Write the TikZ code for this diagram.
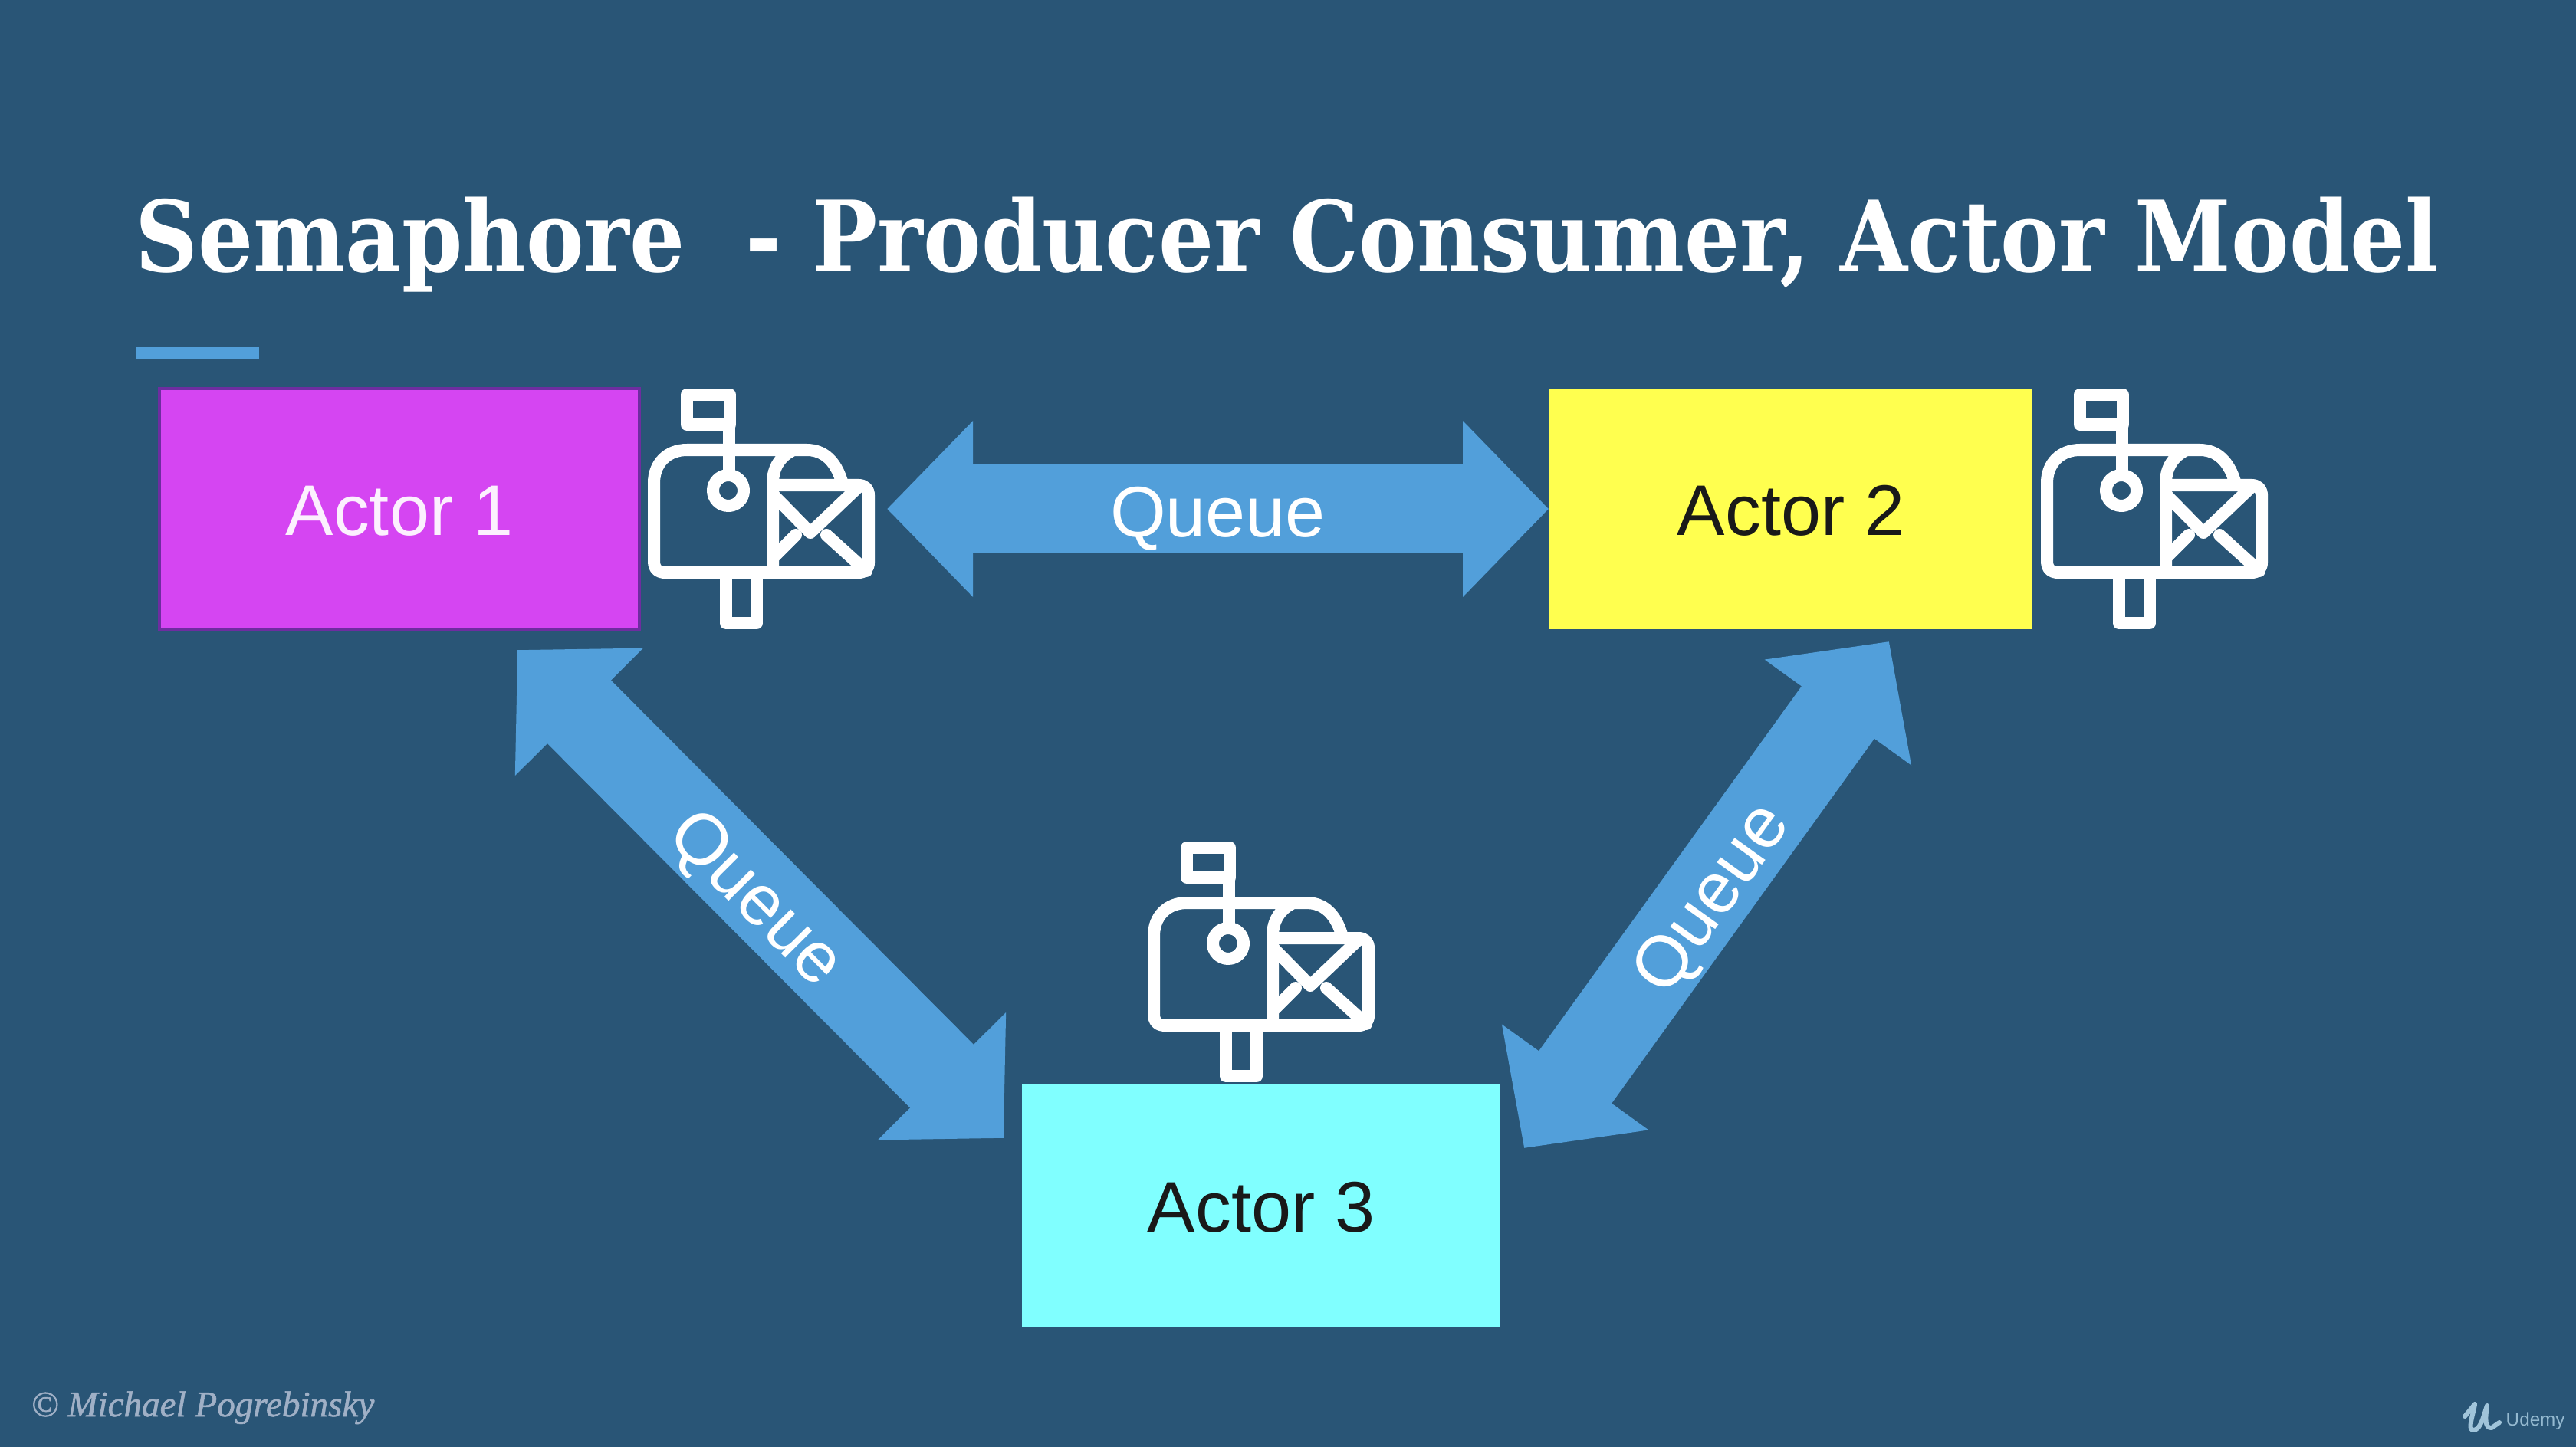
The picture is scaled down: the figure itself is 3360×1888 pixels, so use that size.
\documentclass[tikz,border=0pt]{standalone}
\usepackage{fontspec}
\usetikzlibrary{arrows.meta}
\setmainfont{Liberation Sans}
\newfontfamily\titlefont{DejaVu Serif}[FakeStretch=0.884]
\newfontfamily\footfont{Liberation Serif}[FakeBold=1.2]
\definecolor{slidebg}{RGB}{41, 85, 118}
\definecolor{queueblue}{RGB}{82, 159, 218}
\definecolor{actormag}{RGB}{213, 69, 242}
\definecolor{actormagdark}{RGB}{110, 45, 160}
\definecolor{actoryel}{RGB}{255, 255, 79}
\definecolor{actorcyan}{RGB}{128, 255, 255}
\definecolor{footgray}{RGB}{160, 176, 198}
\definecolor{logoblue}{RGB}{160, 196, 218}
\tikzset{
    actorbox/.style={rectangle, inner sep=0pt, minimum width=6.26cm, minimum height=3.13cm, text height=19.6pt, text depth=0pt, font=\fontsize{26.6}{30}\selectfont},
    queuearrow/.style={line width=1.17cm, draw=queueblue, {Triangle[length=1.14cm, width=2.29cm]}-{Triangle[length=1.14cm, width=2.29cm]}},
    flatarrow/.style={line width=1.16cm, draw=queueblue, {Triangle[length=1.12cm, width=2.23cm]}-{Triangle[length=1.12cm, width=2.23cm]}},
    queuelabel/.style={text=white, inner sep=0pt, text height=21.5pt, text depth=1pt, font=\fontsize{26.6}{30}\selectfont},
    boxline/.style={draw=white, line width=0.16cm, line join=round, line cap=round},
    mailbox/.pic={
        % flag and pole
        \draw[boxline] (96,45) rectangle (152,84);
        \draw[boxline] (151,84) -- (151,150);
        \draw[boxline] (150,170) circle[radius=20];
        % body, open end and envelope
        \draw[boxline] (298,158) .. controls (290,132) and (275,117) .. (252,117) -- (96,117)
            .. controls (70,117) and (53,135) .. (53,160) -- (53,262)
            .. controls (53,272) and (58,277) .. (68,277) -- (320,277)
            .. controls (328,277) and (333,272) .. (333,264) -- (333,176)
            .. controls (333,168) and (328,163) .. (320,163) -- (208,163);
        \draw[boxline] (208,277) -- (208,160) .. controls (208,140) and (218,125) .. (235,117);
        \draw[boxline] (208,175) -- (257,225) -- (320,165);
        \draw[boxline] (208,258) -- (238,228);
        \draw[boxline] (278,228) -- (330,275);
        % post
        \draw[boxline] (147,277) -- (147,343) -- (187,343) -- (187,277);
    }
}

\begin{document}
\begin{tikzpicture}[x=0.01cm, y=-0.01cm]
    \fill[slidebg] (0,0) rectangle (3360,1888);

    \node[anchor=base west, inner sep=0pt, text=white, font=\titlefont\bfseries\fontsize{36.5}{40}\selectfont] (title) at (176,354) {Semaphore\ \ - Producer Consumer, Actor Model};
    \node[fill=queueblue, inner sep=0pt, minimum width=1.59cm, minimum height=0.16cm] (titlerule) at (258,461) {};

    \node[actorbox, fill=actormag, draw=actormagdark, line width=0.04cm, text=white!92!actormag] (actor1) at (521,664) {Actor 1};
    \node[actorbox, fill=actoryel, minimum width=6.3cm, text=black!90] (actor2) at (2336,664) {Actor 2};
    \node[actorbox, fill=actorcyan, minimum width=6.24cm, minimum height=3.17cm, text=black!90] (actor3) at (1645,1573) {Actor 3};

    \foreach \bx/\by in {800/470, 2617/470, 1452/1061}
        \pic at (\bx,\by) {mailbox};

    \coordinate (q12a) at (1157,664);
    \coordinate (q13a) at (675,848);
    \coordinate (q13b) at (1309,1485);
    \coordinate (q23a) at (2464,837);
    \coordinate (q23b) at (1988,1498);

    \draw[flatarrow] (q12a) -- node[queuelabel] (queue12) {Queue} (actor2.west);
    \draw[queuearrow] (q13a) -- node[queuelabel, sloped] (queue13) {Queue} (q13b);
    \draw[queuearrow] (q23b) -- node[queuelabel, sloped] (queue23) {Queue} (q23a);

    \node[anchor=base west, inner sep=0pt, text=footgray, font=\footfont\itshape\fontsize{13.4}{15}\selectfont] (credit) at (40,1848) {© Michael Pogrebinsky};

    % logo in the corner
    \draw[logoblue, line width=0.06cm, line cap=round, line join=round] (3215,1848) -- (3228,1832) .. controls (3226,1845) and (3218,1866) .. (3226,1866)
        .. controls (3236,1866) and (3240,1845) .. (3244,1834) .. controls (3242,1848) and (3240,1864) .. (3250,1863) -- (3260,1856);
    \node[anchor=base west, inner sep=0pt, text=logoblue!90!slidebg, font=\fontsize{6.9}{8}\selectfont] (udemy) at (3268,1860) {Udemy};
\end{tikzpicture}
\end{document}
